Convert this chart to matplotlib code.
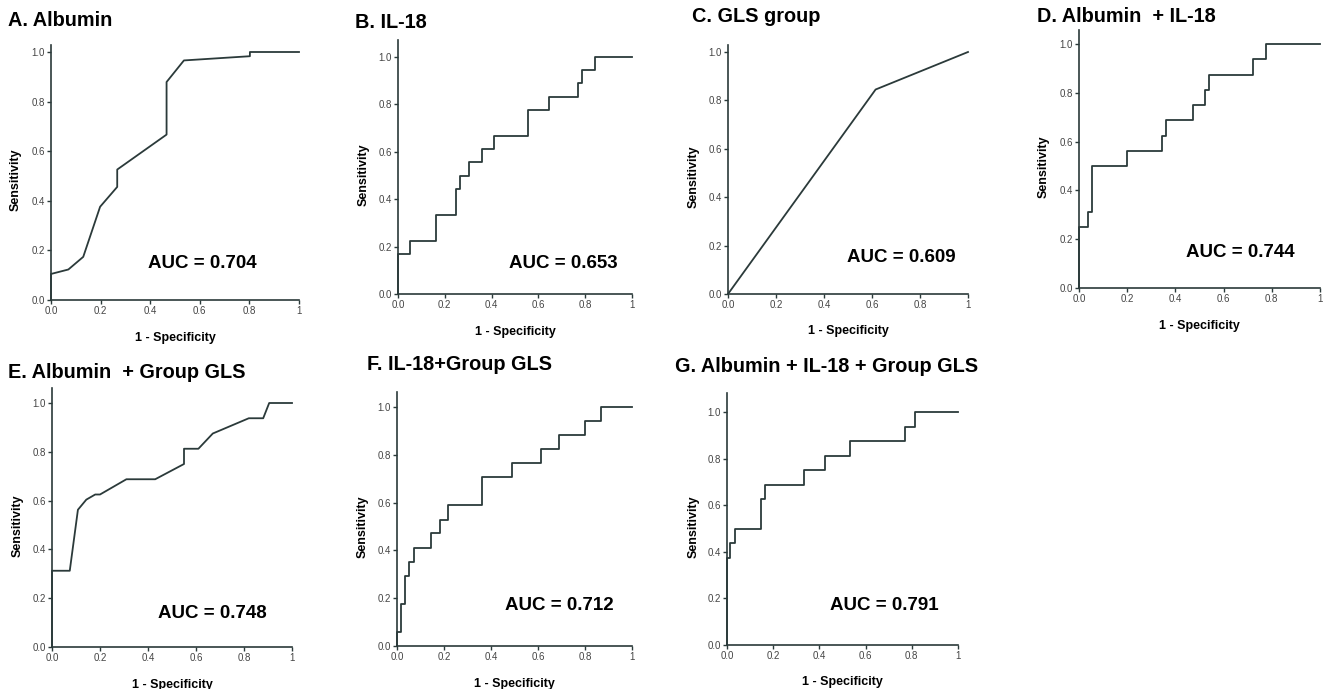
import numpy as np
import matplotlib
matplotlib.use("Agg")
import matplotlib.pyplot as plt

plt.rcParams['font.family'] = ['Liberation Sans', 'DejaVu Sans']

W, H = 1325, 689
LINE = '#2b3a3a'

# ---- data ----
a_fpr = [0, 0, 0.07, 0.13, 0.198, 0.267, 0.267, 0.466, 0.466, 0.536, 0.802, 0.802, 1.0]
a_tpr = [0, 0.105, 0.123, 0.174, 0.376, 0.456, 0.526, 0.667, 0.879, 0.966, 0.983, 1.0, 1.0]

b_fpr = [0, 0, 0.053, 0.161, 0.25, 0.267, 0.304, 0.357, 0.41, 0.557, 0.646, 0.771, 0.786, 0.843, 1.0]
b_tpr = [0, 0.167, 0.222, 0.333, 0.444, 0.5, 0.556, 0.611, 0.667, 0.778, 0.833, 0.889, 0.944, 1.0, 1.0]

c_fpr = [0, 0.615, 1.0]
c_tpr = [0, 0.845, 1.0]

d_fpr = [0, 0, 0.037, 0.054, 0.199, 0.345, 0.359, 0.471, 0.522, 0.539, 0.723, 0.778, 1.0]
d_tpr = [0, 0.25, 0.3125, 0.5, 0.5625, 0.625, 0.6875, 0.75, 0.8125, 0.875, 0.9375, 1.0, 1.0]

e_fpr = [0, 0, 0.074, 0.108, 0.143, 0.18, 0.2, 0.31, 0.43, 0.55, 0.55, 0.61, 0.67, 0.82, 0.88, 0.905, 1.0]
e_tpr = [0, 0.3125, 0.3125, 0.5625, 0.604, 0.625, 0.625, 0.6875, 0.6875, 0.75, 0.8125, 0.8125, 0.875,
         0.9375, 0.9375, 1.0, 1.0]

f_fpr = [0, 0, 0.017, 0.035, 0.052, 0.071, 0.145, 0.182, 0.216, 0.362, 0.489, 0.613, 0.688, 0.799, 0.87, 1.0]
f_tpr = [0, 0.059, 0.176, 0.294, 0.353, 0.412, 0.471, 0.529, 0.588, 0.706, 0.765, 0.824, 0.882, 0.941, 1.0, 1.0]

g_fpr = [0, 0, 0.014, 0.036, 0.146, 0.163, 0.332, 0.423, 0.534, 0.772, 0.812, 1.0]
g_tpr = [0, 0.375, 0.4375, 0.5, 0.625, 0.6875, 0.75, 0.8125, 0.875, 0.9375, 1.0, 1.0]

titles = ["A. Albumin", "B. IL-18", "C. GLS group", "D. Albumin  + IL-18",
          "E. Albumin  + Group GLS", "F. IL-18+Group GLS", "G. Albumin + IL-18 + Group GLS"]
auc_labels = ["AUC = 0.704", "AUC = 0.653", "AUC = 0.609", "AUC = 0.744",
              "AUC = 0.748", "AUC = 0.712", "AUC = 0.791"]
xticks = [0.0, 0.2, 0.4, 0.6, 0.8, 1.0]
xtick_labels = ["0.0", "0.2", "0.4", "0.6", "0.8", "1"]
yticks = [0.0, 0.2, 0.4, 0.6, 0.8, 1.0]
ytick_labels = ["0.0", "0.2", "0.4", "0.6", "0.8", "1.0"]

curves = [(a_fpr, a_tpr, 'default'), (b_fpr, b_tpr, 'steps-post'), (c_fpr, c_tpr, 'default'),
          (d_fpr, d_tpr, 'steps-post'), (e_fpr, e_tpr, 'default'), (f_fpr, f_tpr, 'steps-post'),
          (g_fpr, g_tpr, 'steps-post')]

# layout in pixels: left, right (x=1), bottom (y=0), y of 1.0, top of spine
boxes = [(51, 299, 300, 52, 45), (398, 632, 294, 57, 40), (728, 968, 294, 52, 45),
         (1079, 1320, 288, 44, 30), (52, 292, 647, 403, 388), (397, 632, 646, 407, 392),
         (727, 958, 645, 412, 393)]
title_pos = [(8, 21), (355, 22), (692, 16), (1037, 16), (8, 372), (367, 364), (675, 366)]
auc_pos = [(202, 263), (563, 263), (901, 257), (1240, 253), (212, 613), (559, 605), (884, 605)]

fig = plt.figure(figsize=(W / 100, H / 100), dpi=100)
fig.patch.set_facecolor('white')

for i in range(7):
    l, r, b, y1, t = boxes[i]
    ax = fig.add_axes([l / W, 1 - b / H, (r - l) / W, (b - t) / H])
    fx, ty, ds = curves[i]
    ax.plot(fx, ty, color=LINE, lw=1.3, drawstyle=ds, clip_on=False)
    ax.set_xlim(0, 1)
    ax.set_ylim(0, (b - t) / (b - y1))

    ax.spines['top'].set_visible(False)
    ax.spines['right'].set_visible(False)
    for s in ['left', 'bottom']:
        ax.spines[s].set_color(LINE)
        ax.spines[s].set_linewidth(1.2)

    ax.set_xticks(xticks)
    ax.set_xticklabels(xtick_labels)
    ax.set_yticks(yticks)
    ax.set_yticklabels(ytick_labels)
    ax.tick_params(direction='out', length=3, width=1, color=LINE,
                   labelsize=7, labelcolor='#444444', pad=1.5)

    ax.set_ylabel("Sensitivity", fontsize=9, fontweight='bold')
    ax.set_xlabel("1 - Specificity", fontsize=9, fontweight='bold')
    ax.yaxis.set_label_coords(-0.12, 0.47)
    ax.xaxis.set_label_coords(0.5, -0.125)

    tx, tyy = title_pos[i]
    fig.text(tx / W, 1 - tyy / H, titles[i], fontsize=14.3, fontweight='bold',
             ha='left', va='center')
    ax_, ay_ = auc_pos[i]
    fig.text(ax_ / W, 1 - ay_ / H, auc_labels[i], fontsize=13.5, fontweight='bold',
             ha='center', va='center')

fig.savefig("out.png", dpi=100, facecolor='white')
